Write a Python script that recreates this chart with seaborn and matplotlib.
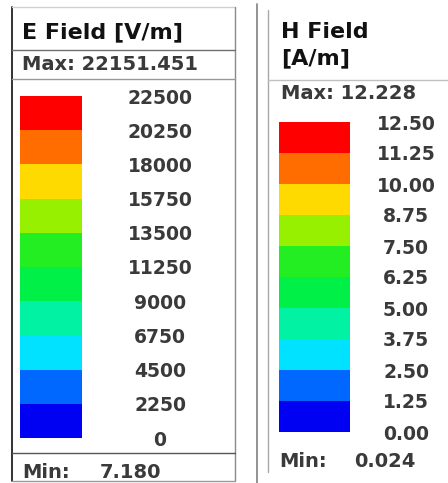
import numpy as np
import matplotlib
matplotlib.use("Agg")
import matplotlib.pyplot as plt
from matplotlib.colors import ListedColormap
from matplotlib.lines import Line2D
import seaborn as sns

# ---- legend contents ----
e_title = "E Field [V/m]"
e_max_text = "Max: 22151.451"
e_min_label = "Min:"
e_min_value = "7.180"
e_levels = [0, 2250, 4500, 6750, 9000, 11250, 13500, 15750, 18000, 20250, 22500]
e_tick_labels = ["0", "2250", "4500", "6750", "9000", "11250", "13500",
                 "15750", "18000", "20250", "22500"]

h_title = ["H Field", "[A/m]"]
h_max_text = "Max: 12.228"
h_min_label = "Min:"
h_min_value = "0.024"
h_levels = [0.00, 1.25, 2.50, 3.75, 5.00, 6.25, 7.50, 8.75, 10.00, 11.25, 12.50]
h_tick_labels = ["0.00", "1.25", "2.50", "3.75", "5.00", "6.25", "7.50",
                 "8.75", "10.00", "11.25", "12.50"]

# band colours, lowest band first
band_colors = ["#0000f2", "#0068ff", "#00e2ff", "#00f2a2", "#00f048",
               "#22ee22", "#96f000", "#ffda00", "#ff6c00", "#ff0000"]

W, H = 448, 483
DPI = 100
TXT = "#3a3a3a"

sns.set_theme(style="white")
plt.rcParams["font.family"] = ["DejaVu Sans"]

fig = plt.figure(figsize=(W / DPI, H / DPI), dpi=DPI)
fig.patch.set_facecolor("white")


def fx(x):
    return x / W


def fy(y):
    return 1 - y / H


def hline(x0, x1, y, color="#6e6e6e", lw=1.0):
    fig.add_artist(Line2D([fx(x0), fx(x1)], [fy(y), fy(y)],
                          transform=fig.transFigure, color=color, lw=lw))


def vline(x, y0, y1, color="#6e6e6e", lw=1.0):
    fig.add_artist(Line2D([fx(x), fx(x)], [fy(y0), fy(y1)],
                          transform=fig.transFigure, color=color, lw=lw))


def text(x, y, s, size, weight="bold", color=TXT, ha="left"):
    fig.text(fx(x), fy(y), s, fontsize=size, fontweight=weight, color=color,
             ha=ha, va="baseline")


def color_bar(levels, labels, box, label_x, size):
    x0, y0, x1, y1 = box
    ax = fig.add_axes([fx(x0), fy(y1), (x1 - x0) / W, (y1 - y0) / H])
    lv = np.asarray(levels, dtype=float)
    mids = (lv[:-1] + lv[1:]) / 2
    data = mids[::-1].reshape(-1, 1)          # highest band on top
    sns.heatmap(data, ax=ax, cmap=ListedColormap(band_colors),
                vmin=lv[0], vmax=lv[-1], cbar=False,
                xticklabels=False, yticklabels=False)
    ax.set_yticks(np.arange(len(levels)))
    ax.set_yticklabels(labels[::-1])
    ax.yaxis.tick_right()
    pad_pt = (label_x - x1) * 72 / DPI
    ax.tick_params(axis="y", length=0, pad=pad_pt, labelsize=size,
                   labelcolor=TXT, right=False, left=False)
    for t in ax.get_yticklabels():
        t.set_ha("center")
        t.set_fontweight("bold")
    for s in ax.spines.values():
        s.set_visible(False)
    return ax


# ---- E field panel ----
vline(12, 7, 481, color="#222222", lw=1.3)
hline(12, 235, 7, color="#d0d0d0")
vline(235, 7, 481, color="#8a8a8a")
hline(12, 235, 50)
hline(12, 235, 79, color="#9a9a9a")
hline(12, 235, 453, color="#555555")
hline(12, 235, 481, color="#9a9a9a")

text(22, 38, e_title, 16, color="#111111")
text(22, 70, e_max_text, 14)
color_bar(e_levels, e_tick_labels, (20, 96, 82, 438), 160, 13.5)
text(22, 478, e_min_label, 14)
text(100, 478, e_min_value, 14)

# ---- H field panel ----
vline(257, 4, 483, color="#8a8a8a", lw=1.3)
vline(268, 10, 472, color="#a8a8a8", lw=1.0)
hline(268, 448, 80, color="#c0c0c0")

text(281, 38, h_title[0], 16, color="#111111")
text(281, 64, h_title[1], 16, color="#111111")
text(281, 99, h_max_text, 14)
color_bar(h_levels, h_tick_labels, (279, 122, 350, 432), 406, 13.5)
text(279, 467, h_min_label, 14)
text(354, 467, h_min_value, 14)

fig.savefig("out.png", dpi=DPI, facecolor="white")
